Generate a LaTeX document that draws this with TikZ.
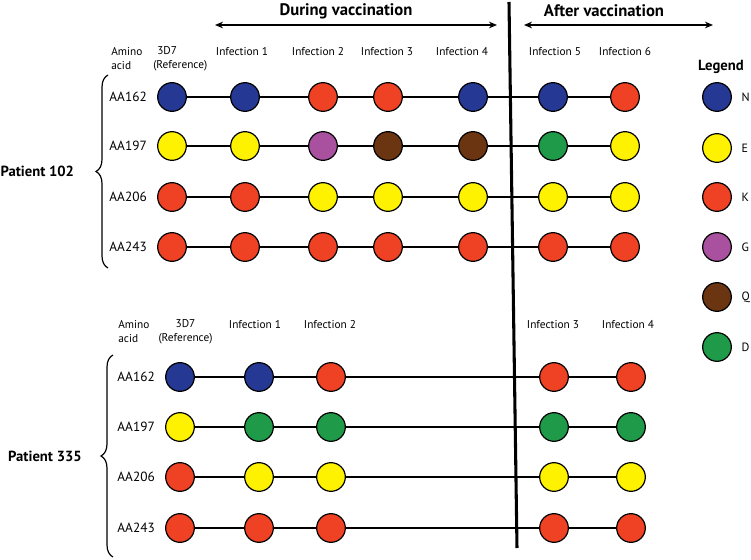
\documentclass[tikz,border=0pt]{standalone}
\usepackage{fontspec}
\setmainfont{PT Sans}
\usetikzlibrary{positioning,decorations.pathreplacing,arrows.meta}

\definecolor{aaN}{HTML}{253893}
\definecolor{aaE}{HTML}{FFF200}
\definecolor{aaK}{HTML}{EF4123}
\definecolor{aaG}{HTML}{A9519F}
\definecolor{aaQ}{HTML}{6B3512}
\definecolor{aaD}{HTML}{1F9A48}

\tikzset{
	res/.style={circle, draw=black, line width=0.9pt, minimum size=21.5pt, inner sep=0pt},
	link/.style={line width=1pt},
	rowlab/.style={font=\fontsize{10}{12}\selectfont, inner sep=0pt},
	colhead/.style={font=\fontsize{8.5}{10.5}\selectfont, inner sep=0pt, align=center},
	keylab/.style={font=\fontsize{9}{11}\selectfont, inner sep=0pt},
	phase/.style={font=\bfseries\fontsize{12.5}{14}\selectfont, inner sep=0pt},
	patient/.style={font=\bfseries\fontsize{11}{13}\selectfont, inner sep=0pt},
	span/.style={line width=1.5pt, {Stealth[length=6pt,width=5pt]}-{Stealth[length=6pt,width=5pt]}},
	divider/.style={line width=2.3pt},
	grp/.style={decorate, decoration={brace, amplitude=9pt}, line width=0.9pt},
}

\begin{document}
\begin{tikzpicture}[x=0.75pt, y=-0.75pt]
	\useasboundingbox (0,0) rectangle (751,560);

	% phases of the trial
	\node[phase] (during) at (346,11) {During vaccination};
	\node[phase] (after) at (604,11) {After vaccination};
	\coordinate (d1) at (215,25);
	\coordinate (d2) at (497,25);
	\coordinate (a1) at (524,25);
	\coordinate (a2) at (713,25);
	\draw[span] (d1) -- (d2);
	\draw[span] (a1) -- (a2);

	% Patient 102
	\node[colhead, align=left, anchor=west] (pAhead) at (111,59) {Amino\\acid};
	\node[colhead, align=left, anchor=west] (pArefhead) at (153,59) {\hspace{3pt}3D7\\(Reference)};
	\foreach \xx/\t in {242/1, 318/2, 387/3, 462/4, 555/5, 625/6}
		\node[colhead] (pAinf\t) at (\xx,52) {Infection \t};

	\foreach \r/\yy/\lab/\cl in {1/97/AA162/{aaN,aaN,aaK,aaK,aaN,aaN,aaK},
		2/146/AA197/{aaE,aaE,aaG,aaQ,aaQ,aaD,aaE},
		3/197/AA206/{aaK,aaK,aaE,aaE,aaE,aaE,aaE},
		4/247/AA243/{aaK,aaK,aaK,aaK,aaK,aaK,aaK}}{
		\foreach \c [count=\i] in \cl {
			\pgfmathsetmacro{\xx}{{172,245,323,388,473,553,625}[\i-1]}
			\node[res, fill=\c] (pA\r-\i) at (\xx,\yy) {};
		}
		\node[rowlab, left=7.5pt of pA\r-1] (pAlab\r) {\lab};
		\foreach \i in {1,...,6}{
			\pgfmathtruncatemacro{\j}{\i+1}
			\draw[link] (pA\r-\i) -- (pA\r-\j);
		}
	}

	\coordinate (pAtop) at (108,75);
	\coordinate (pAbot) at (108,268);
	\draw[grp] (pAbot) -- (pAtop) node[patient, midway, left=25pt] (pAname) {Patient 102};

	% Patient 335
	\node[colhead, align=left, anchor=west] (pBhead) at (118,331.5) {Amino\\acid};
	\node[colhead] (pBrefhead) at (185.5,331.5) {3D7\\(Reference)};
	\foreach \xx/\t in {255/1, 330/2, 553/3, 628/4}
		\node[colhead] (pBinf\t) at (\xx,325) {Infection \t};

	\foreach \r/\yy/\lab/\cl in {1/377/AA162/{aaN,aaN,aaK,aaK,aaK},
		2/427/AA197/{aaE,aaD,aaD,aaD,aaD},
		3/477/AA206/{aaK,aaE,aaE,aaE,aaE},
		4/528/AA243/{aaK,aaK,aaK,aaK,aaK}}{
		\foreach \c [count=\i] in \cl {
			\pgfmathsetmacro{\xx}{{180,259,331,554,631}[\i-1]}
			\node[res, fill=\c] (pB\r-\i) at (\xx,\yy) {};
		}
		\node[rowlab, left=7.5pt of pB\r-1] (pBlab\r) {\lab};
		\foreach \i in {1,...,4}{
			\pgfmathtruncatemacro{\j}{\i+1}
			\draw[link] (pB\r-\i) -- (pB\r-\j);
		}
	}

	\coordinate (pBtop) at (113,355);
	\coordinate (pBbot) at (113,557);
	\draw[grp] (pBbot) -- (pBtop) node[patient, midway, left=23pt] (pBname) {Patient 335};

	% end of vaccination
	\coordinate (vtop) at (509,2);
	\coordinate (vbot) at (517,548);
	\draw[divider] (vtop) -- (vbot);

	% legend
	\node[patient] (leg) at (721,67) {Legend};
	\foreach \yy/\c/\t in {97/aaN/N, 148/aaE/E, 197/aaK/K, 247/aaG/G, 297/aaQ/Q, 347/aaD/D}{
		\node[res, fill=\c] (key\t) at (717,\yy) {};
		\node[keylab, right=7pt of key\t] (keylab\t) {\t};
	}
\end{tikzpicture}
\end{document}
